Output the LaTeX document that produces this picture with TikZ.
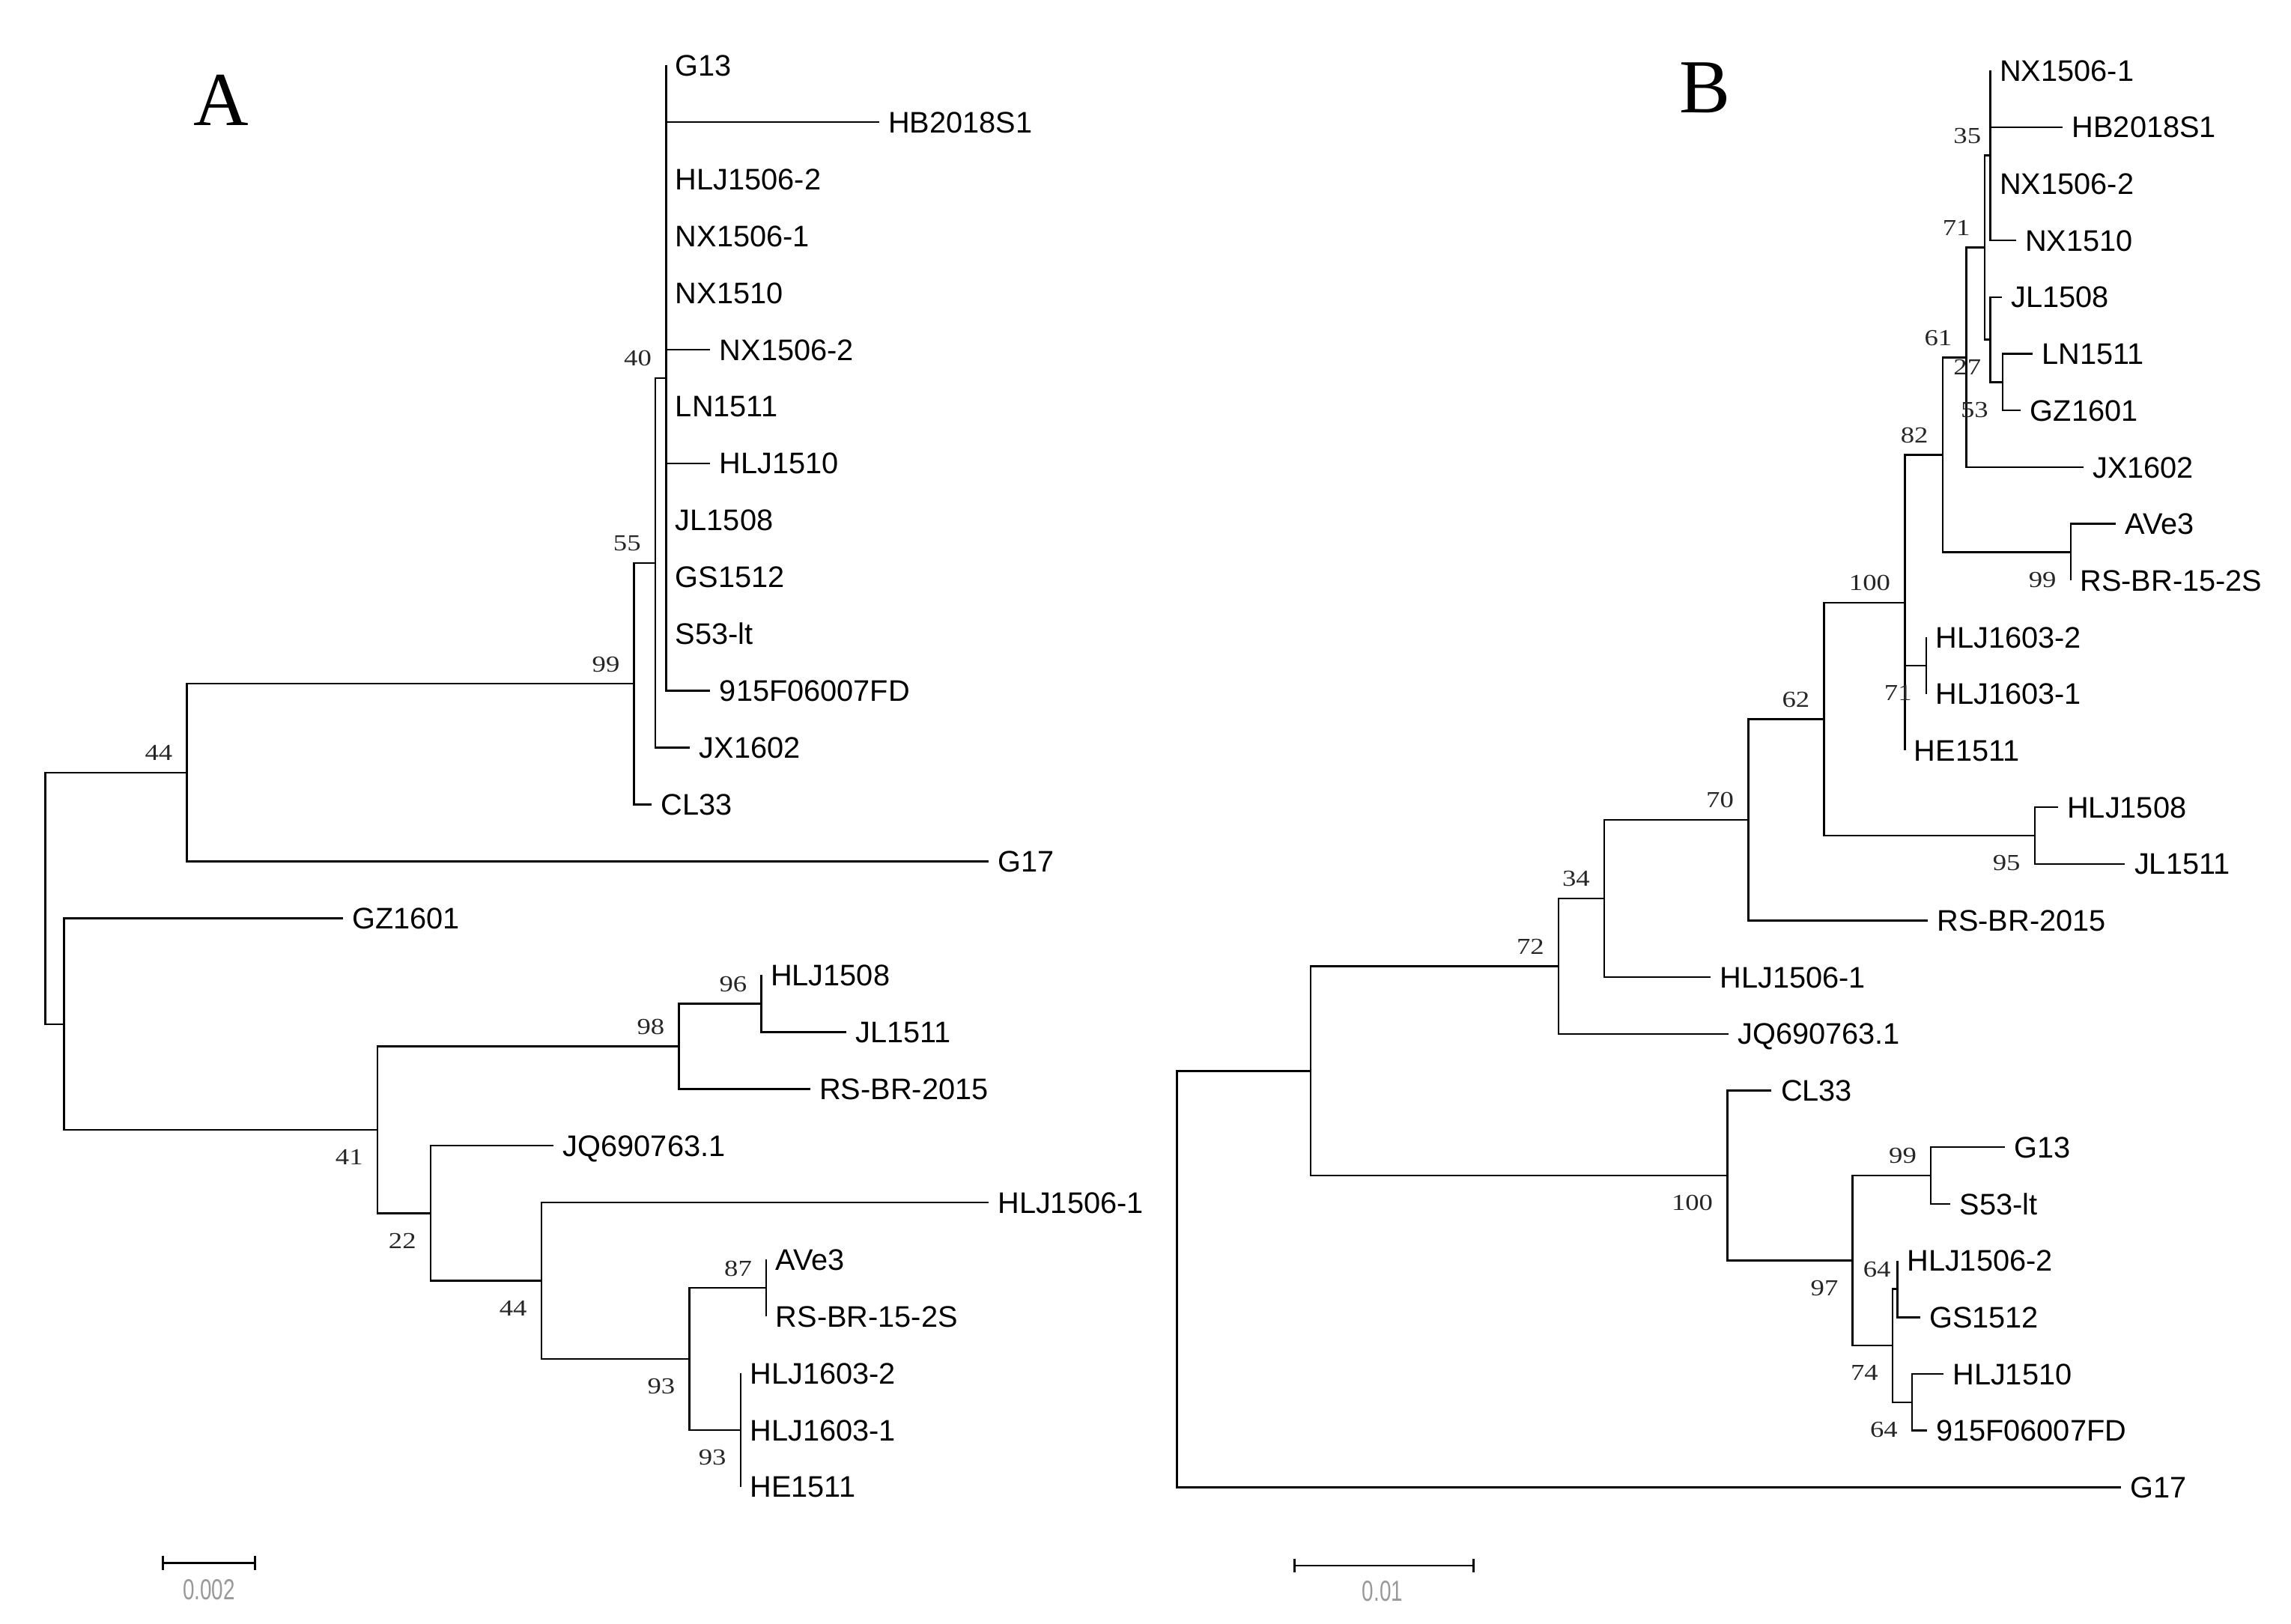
\documentclass[tikz,border=0pt]{standalone}
\usepackage{fontspec}
\setmainfont{Liberation Serif}
\newfontfamily\leaffont{Liberation Sans}
\usepackage{graphicx}
\tikzset{
    branch/.style = {draw=black, line width=0.7pt},
    leaf_node/.style = {anchor=west, inner xsep=3.4pt, inner ysep=0pt, text height=8pt, text depth=0pt, font=\leaffont\fontsize{11.3}{13}\selectfont},
    boot/.style = {anchor=east, inner sep=0pt, text height=5.9pt, text depth=0pt, text=black!85, font=\fontsize{8.7}{9}\selectfont},
    boot_up/.style = {boot, shift={(-9.5,-13.5)}},
    boot_down/.style = {boot, shift={(-9.5,18.5)}},
    panel_tag/.style = {anchor=base, inner sep=0pt, font=\fontsize{29}{32}\selectfont},
    scale_bar/.style = {draw=black, line width=0.8pt},
    scale_text/.style = {inner sep=0pt, text=black!40, font=\leaffont\fontsize{11}{12}\selectfont}
}
\newcommand{\bsv}[1]{\scalebox{1.2}[1]{#1}}
\newcommand{\sbv}[1]{\scalebox{0.72}[1]{#1}}

\begin{document}
\begin{tikzpicture}[x=0.01961cm, y=-0.01961cm]
    \useasboundingbox (0,0) rectangle (1560,1106.1);

    % tree A
    \node[panel_tag] (tagA) at (150.5,85.5) {A};
    \foreach \n/\x/\i/\t in {aG13/453.5/0/G13, aHB/598.5/1/HB2018S1, aHLJ2/453.5/2/HLJ1506-2,
        aNX1/453.5/3/NX1506-1, aNX10/453.5/4/NX1510, aNX2/483.6/5/NX1506-2, aLN/453.5/6/LN1511,
        aHLJ10/483.6/7/HLJ1510, aJL08/453.5/8/JL1508, aGS/453.5/9/GS1512, aS53/453.5/10/S53-lt,
        a915/483.6/11/915F06007FD, aJX/469.8/12/JX1602, aCL/443.8/13/CL33, aG17/673/14/G17,
        aGZ/233.4/15/GZ1601, aHLJ08/518.4/16/HLJ1508, aJL11/576.2/17/JL1511, aRS15/551.6/18/RS-BR-2015,
        aJQ/377/19/JQ690763.1, aHLJ1/673/20/HLJ1506-1, aAV/521.8/21/AVe3, aRS2S/521.8/22/RS-BR-15-2S,
        aH32/504.3/23/HLJ1603-2, aH31/504.3/24/HLJ1603-1, aHE/504.3/25/HE1511}
        \node[leaf_node] (\n) at (\x,{44.5+38.73*\i}) {\t};

    \coordinate (aroot) at (30.8,611.9);
    \coordinate (a44u) at (127.3,526.2);
    \coordinate (a99) at (431.8,465.7);
    \coordinate (a55) at (446.2,383.4);
    \coordinate (a40) at (453.5,257.5);
    \coordinate (alow) at (43.5,697.5);
    \coordinate (a41) at (257,769.5);
    \coordinate (a98) at (462.3,712.6);
    \coordinate (a96) at (518.4,683.6);
    \coordinate (a22) at (293.2,826.4);
    \coordinate (a44l) at (368.6,872.4);
    \coordinate (a93) at (469.5,925.6);
    \coordinate (a87) at (521.8,877.2);
    \coordinate (a93l) at (504.3,974.05);

    \foreach \p/\c in {aroot/a44u, aroot/alow, a44u/a99, a44u/aG17.west, a99/a55, a99/aCL.west,
        a55/a40, a55/aJX.west, a40/aG13.west, a40/aHB.west, a40/aHLJ2.west, a40/aNX1.west,
        a40/aNX10.west, a40/aNX2.west, a40/aLN.west, a40/aHLJ10.west, a40/aJL08.west, a40/aGS.west,
        a40/aS53.west, a40/a915.west, alow/aGZ.west, alow/a41, a41/a98, a41/a22, a98/a96,
        a98/aRS15.west, a96/aHLJ08.west, a96/aJL11.west, a22/aJQ.west, a22/a44l, a44l/aHLJ1.west,
        a44l/a93, a93/a87, a93/a93l, a87/aAV.west, a87/aRS2S.west, a93l/aH32.west,
        a93l/aH31.west, a93l/aHE.west}
        \draw[branch] (\p) |- (\c);

    \foreach \c/\v in {a40/40, a55/55, a99/99, a44u/44, a98/98, a96/96, a87/87}
        \node[boot_up] at (\c) {\bsv{\v}};
    \foreach \c/\v in {a41/41, a22/22, a44l/44, a93/93, a93l/93}
        \node[boot_down] at (\c) {\bsv{\v}};

    \coordinate (sa1) at (111,1064.7);
    \coordinate (sa2) at (173.7,1064.7);
    \draw[scale_bar] (sa1) -- (sa2);
    \draw[scale_bar] ([yshift=-2.7pt]sa1) -- ([yshift=2.7pt]sa1);
    \draw[scale_bar] ([yshift=-2.7pt]sa2) -- ([yshift=2.7pt]sa2);
    \node[scale_text] (sa_txt) at (142.3,1082.6) {\sbv{0.002}};

    % tree B
    \node[panel_tag] (tagB) at (1161,76.5) {B};
    \foreach \n/\x/\i/\t in {bNX1/1355.3/0/NX1506-1, bHB/1404.5/1/HB2018S1, bNX2/1355.3/2/NX1506-2,
        bNX10/1372.6/3/NX1510, bJL08/1362.9/4/JL1508, bLN/1384/5/LN1511, bGZ/1376/6/GZ1601,
        bJX/1418.5/7/JX1602, bAV/1440.6/8/AVe3, bRS2S/1410/9/RS-BR-15-2S, bH32/1311.6/10/HLJ1603-2,
        bH31/1311.6/11/HLJ1603-1, bHE/1297/12/HE1511, bHLJ08/1401.2/13/HLJ1508, bJL11/1447/14/JL1511,
        bRS15/1312.6/15/RS-BR-2015, bHLJ1/1164.8/16/HLJ1506-1, bJQ/1177/17/JQ690763.1,
        bCL/1206.3/18/CL33, bG13/1365.1/19/G13, bS53/1328.1/20/S53-lt, bHLJ2/1292.1/21/HLJ1506-2,
        bGS/1307.4/22/GS1512, bHLJ10/1323.2/23/HLJ1510, b915/1311.9/24/915F06007FD, bG17/1444/25/G17}
        \node[leaf_node] (\n) at (\x,{48+38.6*\i}) {\t};

    \coordinate (broot) at (801.3,871.2);
    \coordinate (bmid) at (892.5,729.4);
    \coordinate (b72) at (1061.3,658.1);
    \coordinate (b34) at (1092.4,612);
    \coordinate (b70) at (1190.4,558.4);
    \coordinate (b62) at (1242.1,489.8);
    \coordinate (b100) at (1297,410.5);
    \coordinate (b82) at (1322.8,309.75);
    \coordinate (b61) at (1339,243.4);
    \coordinate (b71) at (1351.3,168.6);
    \coordinate (b35) at (1355.3,105.9);
    \coordinate (b27) at (1355.3,231.35);
    \coordinate (b53) at (1363.7,260.3);
    \coordinate (b99) at (1410,376.1);
    \coordinate (b71l) at (1311.6,453.3);
    \coordinate (b95) at (1385.5,569.1);
    \coordinate (b100l) at (1176.2,800.7);
    \coordinate (b97) at (1261.5,858.6);
    \coordinate (b99l) at (1314.8,800.7);
    \coordinate (b74) at (1288.7,916.5);
    \coordinate (b64u) at (1292.1,877.9);
    \coordinate (b64l) at (1302,955.1);

    \foreach \p/\c in {broot/bmid, broot/bG17.west, bmid/b72, bmid/b100l, b72/b34, b72/bJQ.west,
        b34/b70, b34/bHLJ1.west, b70/b62, b70/bRS15.west, b62/b100, b62/b95, b100/b82, b100/b71l,
        b100/bHE.west, b82/b61, b82/b99, b61/b71, b61/bJX.west, b71/b35, b71/b27, b35/bNX1.west,
        b35/bHB.west, b35/bNX2.west, b35/bNX10.west, b27/bJL08.west, b27/b53, b53/bLN.west,
        b53/bGZ.west, b99/bAV.west, b99/bRS2S.west, b71l/bH32.west, b71l/bH31.west,
        b95/bHLJ08.west, b95/bJL11.west, b100l/bCL.west, b100l/b97, b97/b99l, b97/b74,
        b99l/bG13.west, b99l/bS53.west, b74/b64u, b74/b64l, b64u/bHLJ2.west, b64u/bGS.west,
        b64l/bHLJ10.west, b64l/b915.west}
        \draw[branch] (\p) |- (\c);

    \foreach \c/\v in {b71/71, b61/61, b82/82, b100/100, b62/62, b70/70, b34/34, b72/72, b99l/99}
        \node[boot_up] at (\c) {\bsv{\v}};
    \node[boot_up, shift={(3.5,0)}] at (b35) {\bsv{35}};
    \node[boot_up, shift={(5.2,0)}] at (b64u) {\bsv{64}};
    \foreach \c/\v in {b53/53, b99/99, b71l/71, b95/95, b100l/100, b97/97, b74/74, b64l/64}
        \node[boot_down] at (\c) {\bsv{\v}};
    \node[boot_down, shift={(3.5,0)}] at (b27) {\bsv{27}};

    \coordinate (sb1) at (881.3,1066.3);
    \coordinate (sb2) at (1003.2,1066.3);
    \draw[scale_bar] (sb1) -- (sb2);
    \draw[scale_bar] ([yshift=-2.5pt]sb1) -- ([yshift=2.5pt]sb1);
    \draw[scale_bar] ([yshift=-2.5pt]sb2) -- ([yshift=2.5pt]sb2);
    \node[scale_text] (sb_txt) at (941.4,1083.6) {\sbv{0.01}};
\end{tikzpicture}
\end{document}
